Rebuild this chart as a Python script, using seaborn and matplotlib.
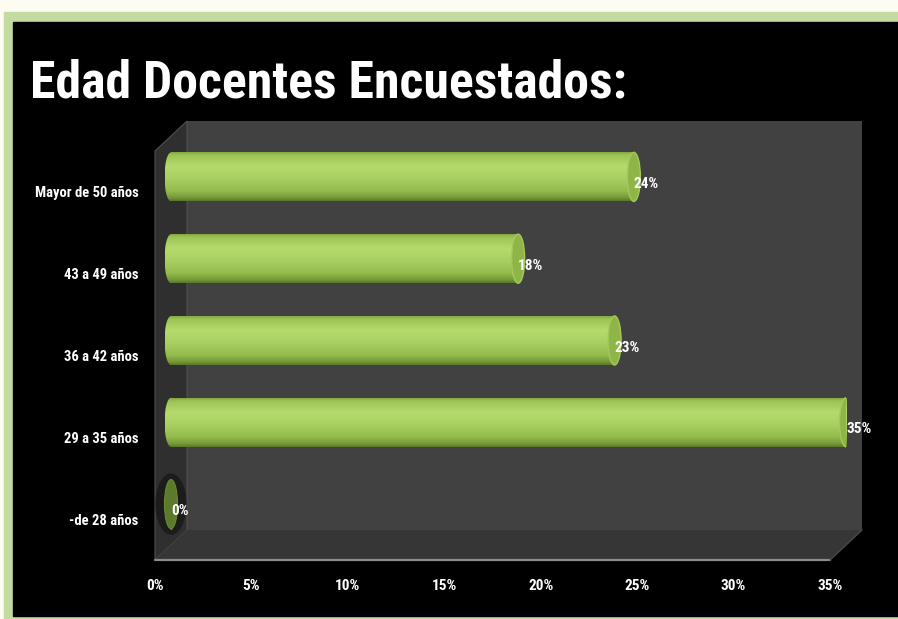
import numpy as np
import pandas as pd
import matplotlib
matplotlib.use("Agg")
import matplotlib.pyplot as plt
import seaborn as sns
from matplotlib.patches import Rectangle, Polygon, Ellipse
from matplotlib.colors import LinearSegmentedColormap
from matplotlib import font_manager

# --- datos ---
categorias = ["Mayor de 50 años", "43 a 49 años", "36 a 42 años", "29 a 35 años", "-de 28 años"]
porcentajes = [24, 18, 23, 35, 0]
ticks_x = [0, 5, 10, 15, 20, 25, 30, 35]
etiquetas_x = [f"{t}%" for t in ticks_x]
titulo = "Edad Docentes Encuestados:"

sns.set_theme(style="dark")
disponibles = {f.name for f in font_manager.fontManager.ttflist}
estrecha = next((n for n in ["Roboto Condensed", "Liberation Sans Narrow",
                             "DejaVu Sans Condensed", "Open Sans Condensed"] if n in disponibles),
                "Liberation Sans")
plt.rcParams['font.family'] = [estrecha, 'DejaVu Sans']

W, H = 898, 619
fig = plt.figure(figsize=(W / 100, H / 100), dpi=100, facecolor="#fcfcf2")


def fx(px):
    return px / W


def fy(py):
    return 1 - py / H


# marco verde y panel negro
fig.patches.append(Rectangle((fx(4), 0), 1, fy(12), transform=fig.transFigure,
                             color="#c3dba0", zorder=-2))
fig.patches.append(Rectangle((fx(13), 3 / H), 1, fy(22) - 3 / H, transform=fig.transFigure,
                             color="black", zorder=-1))

# plano frontal (ejes y etiquetas)
x0, x1, ytop, ybot = 155, 830, 151, 560
escala = (x1 - x0) / 35
ax = fig.add_axes([fx(x0), fy(ybot), (x1 - x0) / W, (ybot - ytop) / H])
ax.set_facecolor("none")
ax.set_xlim(0, 35)
ax.set_ylim(len(categorias) - 0.5, -0.5)
for s in ax.spines.values():
    s.set_visible(False)
ax.grid(False)

# caja 3D: pared del fondo, pared lateral y suelo
dx = 32 / (x1 - x0)
dy = 30 / (ybot - ytop)
kw = dict(transform=ax.transAxes, clip_on=False, zorder=0)
ax.add_patch(Rectangle((dx, dy), 1, 1, facecolor="#414141", edgecolor="none", **kw))
ax.add_patch(Polygon([(0, 0), (dx, dy), (dx, 1 + dy), (0, 1)], closed=True,
                     facecolor="#2f2f2f", edgecolor="#505050", lw=0.8, **kw))
ax.add_patch(Polygon([(0, 0), (1, 0), (1 + dx, dy), (dx, dy)], closed=True,
                     facecolor="#363636", edgecolor="none", **kw))
ax.plot([0, 1], [0, 0], color="#8c8c8c", lw=1.6, transform=ax.transAxes, clip_on=False, zorder=1)
ax.plot([1, 1 + dx], [0, dy], color="#4a4a4a", lw=1.0, transform=ax.transAxes, clip_on=False, zorder=1)

ax.set_xticks(ticks_x, etiquetas_x)
ax.set_yticks(range(len(categorias)), categorias)
ax.tick_params(axis="x", colors="white", labelsize=11, length=0, pad=14)
ax.tick_params(axis="y", colors="white", labelsize=10.5, length=0, pad=12)
for lab in ax.get_xticklabels() + ax.get_yticklabels():
    lab.set_fontweight("bold")

# plano medio: cilindros (con un margen a la izquierda para el extremo redondeado)
margen = 1.0
ax_b = fig.add_axes([fx(x0 + 16 - margen * escala), fy(ybot - 15),
                     (x1 - x0 + margen * escala) / W, (ybot - ytop) / H])
ax_b.set_facecolor("none")
df = pd.DataFrame({"edad": categorias, "pct": porcentajes})
sns.barplot(data=df, x="pct", y="edad", orient="h", order=categorias, color="#a8d060",
            width=0.6, ax=ax_b, zorder=3)


def limites():
    ax_b.set_xlim(-margen, 35)
    ax_b.set_ylim(len(categorias) - 0.5, -0.5)


limites()
ax_b.axis("off")

verde = LinearSegmentedColormap.from_list("cilindro", [
    (0.00, "#7c9c3c"), (0.08, "#9cc455"), (0.30, "#b4db6c"), (0.55, "#a9d161"),
    (0.80, "#93bb4d"), (0.93, "#789a38"), (1.00, "#5a782a")])
grad = np.linspace(0, 1, 256).reshape(-1, 1)
cap_w = 13 / escala

for p, v in zip(ax_b.patches, porcentajes):
    yb, hb = p.get_y(), p.get_height()
    yc = yb + hb / 2
    if v > 0:
        p.set_alpha(0)
        # extremo izquierdo redondeado
        izq = Ellipse((0, yc), cap_w, hb, facecolor="none", edgecolor="none")
        ax_b.add_patch(izq)
        im = ax_b.imshow(grad, cmap=verde, aspect="auto", origin="upper",
                         extent=[-cap_w / 2, cap_w / 2, yb + hb, yb], zorder=3)
        im.set_clip_path(izq)
        cuerpo = Rectangle((0, yb), v, hb, facecolor="none", edgecolor="none")
        ax_b.add_patch(cuerpo)
        im = ax_b.imshow(grad, cmap=verde, aspect="auto", origin="upper",
                         extent=[0, v, yb + hb, yb], zorder=3)
        im.set_clip_path(cuerpo)
        # tapa derecha
        ax_b.add_patch(Ellipse((v, yc), cap_w, hb, facecolor="#8fb548",
                               edgecolor="#a3c95a", lw=1.0, zorder=4))
        limites()
    else:
        ax_b.add_patch(Ellipse((0, yc), cap_w * 2.4, hb * 1.25, facecolor="#151515",
                               edgecolor="none", alpha=0.7, zorder=2))
        ax_b.add_patch(Ellipse((0, yc), cap_w, hb, facecolor="#5b7b2b",
                               edgecolor="#6a8a33", lw=0.8, zorder=4))
    ax_b.annotate(f"{v}%", xy=(v, yc), xytext=(0, -7), textcoords="offset pixels",
                  ha="left", va="center", color="white", fontsize=11,
                  fontweight="bold", zorder=5)

limites()

# título ajustado al ancho disponible
t = fig.text(fx(30), fy(97), titulo, ha="left", va="baseline", color="white",
             fontsize=46, fontweight="bold")
fig.canvas.draw()
ancho = t.get_window_extent().width
t.set_fontsize(46 * 596 / ancho)

fig.savefig("out.png", dpi=100, facecolor=fig.get_facecolor())
